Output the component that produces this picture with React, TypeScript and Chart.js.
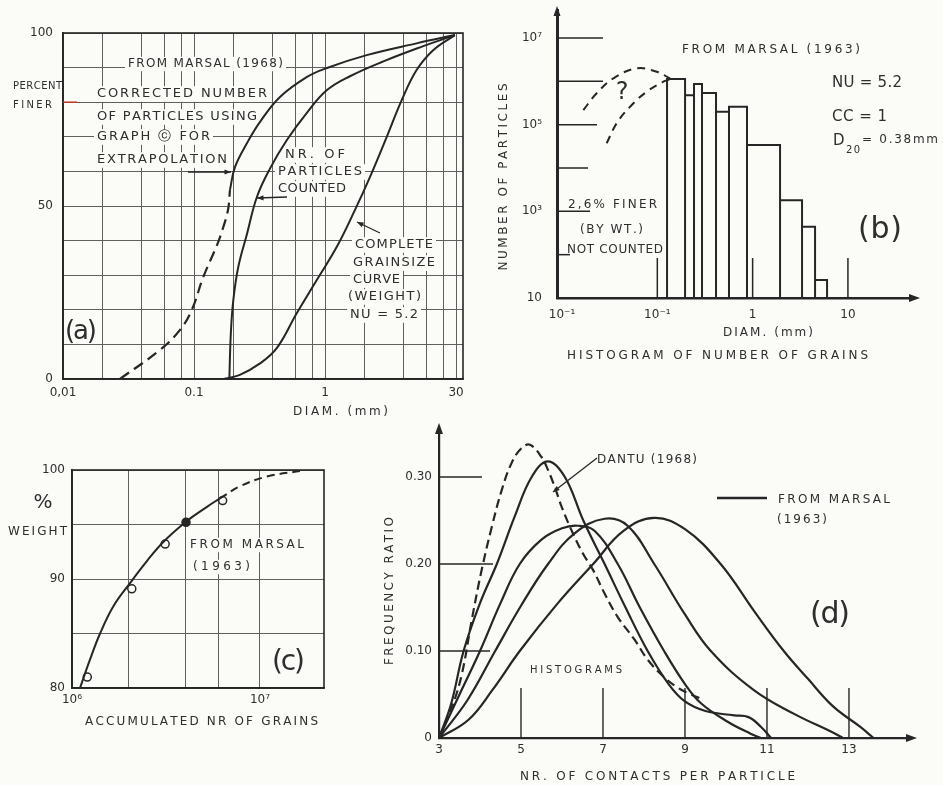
import React, { useEffect, useRef } from "react";
import { Chart, registerables } from "chart.js";

Chart.register(...registerables);

// ---------- palette / fonts ----------
const INK = "#262626";
const TXT = "#2e2e2e";
const GRID = "#5f5f5f";
const PAPER = "#fbfbf8";
const RED = "#c0392b";
const FAM = '"DejaVu Sans", "Liberation Sans", sans-serif';

// ---------- (a) grain-size curves: diameter (mm) vs percent finer ----------
const aCorrectedDashedX = [0.0272, 0.055, 0.0782, 0.096, 0.118, 0.149, 0.166, 0.182, 0.188];
const aCorrectedDashedY = [0, 8.4, 14.2, 19.9, 29.6, 38.5, 43.5, 49, 54.6];
const aCorrectedSolidX = [0.188, 0.2056, 0.254, 0.319, 0.453, 0.729, 1.035, 2.08, 5.0, 9.8];
const aCorrectedSolidY = [54.6, 61.3, 68.2, 74.3, 81.5, 87.3, 89.9, 93.6, 97, 99.4];
const aCountedX = [0.186, 0.191, 0.1995, 0.218, 0.254, 0.302, 0.38, 0.51, 0.729, 1.035, 1.55, 2.79, 5.62, 9.8];
const aCountedY = [0, 13.2, 22.8, 32.5, 42, 52.6, 60.8, 69, 77, 83.5, 87.5, 91.8, 96.2, 99.4];
const aWeightX = [0.168, 0.224, 0.319, 0.428, 0.608, 0.865, 1.23, 1.69, 2.21, 2.96, 3.85, 5.0, 6.72, 9.8];
const aWeightY = [0, 1.2, 4.5, 8.9, 19, 28.6, 38.2, 48.8, 58.5, 70, 80.6, 89.3, 95.1, 99.4];
const aGridX = [0.01, 0.02, 0.04, 0.06, 0.08, 0.1, 0.2, 0.4, 0.6, 0.8, 1, 2, 4, 6, 8, 10];
const aLabelValsX = [0.01, 0.1, 1, 10];
const aLabelsX = ["0,01", "0.1", "1", "30"];
const aGridY = [0, 10, 20, 30, 40, 50, 60, 70, 80, 90, 100];
const aLabelValsY = [0, 50, 100];
const aLabelsY = ["0", "50", "100"];

// ---------- (b) histogram of number of grains ----------
const bBinEdges = [0.1265, 0.1955, 0.2427, 0.2944, 0.413, 0.565, 0.873, 1.94, 3.3, 4.52, 6.04];
const bBinCounts = [1.13e6, 4.8e5, 8.7e5, 5.4e5, 2.0e5, 2.6e5, 3.4e4, 1.8e3, 440, 26];
const bGuessUpperX = [0.01675, 0.0231, 0.0345, 0.0608, 0.0986, 0.1359];
const bGuessUpperY = [2.18e5, 5.3e5, 1.17e6, 2.0e6, 1.66e6, 1.17e6];
const bGuessLowerX = [0.0294, 0.0375, 0.0518, 0.0774, 0.1156, 0.1359];
const bGuessLowerY = [3.72e4, 1.08e5, 2.6e5, 5.77e5, 9.8e5, 1.11e6];
const bTickValsX = [0.01, 0.1, 1, 10];
const bTickLabelsX = ["10⁻¹", "10⁻¹", "1", "10"];
const bTickValsY = [10, 1e3, 1e5, 1e7];
const bTickLabelsY = ["10", "10³", "10⁵", "10⁷"];
const bMarkValsY = [1e2, 1e3, 1e4, 1e5, 1e6, 1e7];
const bMarkValsX = [0.1, 1, 10];

// ---------- (c) % weight vs accumulated number of grains ----------
const cCurveX = [1.103e6, 1.246e6, 1.41e6, 1.66e6, 2.03e6, 2.49e6, 3.06e6, 4.07e6, 5.2e6, 6.12e6];
const cCurveY = [80, 82.6, 85, 87.5, 89.6, 91.6, 93.4, 95.3, 96.6, 97.4];
const cExtrapX = [6.12e6, 7.83e6, 1.087e7, 1.63e7];
const cExtrapY = [97.4, 98.5, 99.4, 99.9];
const cPointsX = [1.206e6, 2.08e6, 3.13e6, 4.04e6, 6.33e6];
const cPointsY = [81.0, 89.1, 93.2, 95.2, 97.2];
const cGridX = [1e6, 2e6, 4e6, 6e6, 1e7];
const cLabelValsX = [1e6, 1e7];
const cLabelsX = ["10⁶", "10⁷"];
const cGridY = [80, 85, 90, 95, 100];
const cLabelValsY = [80, 90, 100];
const cLabelsY = ["80", "90", "100"];

// ---------- (d) frequency ratio vs contacts per particle ----------
const dDantuX = [3, 3.32, 3.56, 3.8, 4.04, 4.29, 4.53, 4.77, 5.01, 5.22, 5.5, 5.66, 5.82, 5.99, 6.23, 6.51, 6.76, 7.04, 7.36, 7.77, 8.09, 8.49, 8.82, 9.1, 9.35];
const dDantuY = [0, 0.036, 0.074, 0.136, 0.193, 0.243, 0.285, 0.316, 0.333, 0.337, 0.323, 0.308, 0.289, 0.266, 0.239, 0.212, 0.193, 0.166, 0.139, 0.113, 0.09, 0.07, 0.058, 0.051, 0.046];
const dMarsal1X = [3, 3.3, 3.6, 4.0, 4.41, 4.85, 5.26, 5.66, 6.07, 6.52, 7.04, 7.55, 8.09, 8.6, 9.0, 9.5, 10.2, 10.55, 10.85, 11.1];
const dMarsal1Y = [0, 0.04, 0.1, 0.155, 0.2, 0.255, 0.3, 0.318, 0.3, 0.25, 0.2, 0.15, 0.1, 0.062, 0.042, 0.031, 0.026, 0.024, 0.013, 0];
const dMarsal2X = [3, 3.5, 4.0, 4.5, 4.97, 5.5, 6.0, 6.39, 6.8, 7.36, 7.9, 8.49, 9.0, 9.39, 10.03, 10.6, 10.85];
const dMarsal2Y = [0, 0.05, 0.1, 0.155, 0.2, 0.228, 0.241, 0.244, 0.238, 0.2, 0.15, 0.1, 0.062, 0.04, 0.019, 0.005, 0];
const dMarsal3X = [3, 3.7, 4.37, 5.0, 5.66, 6.3, 7.04, 7.6, 8.25, 9.0, 9.63, 10.68, 11.65, 12.62, 12.85];
const dMarsal3Y = [0, 0.044, 0.1, 0.152, 0.2, 0.235, 0.252, 0.244, 0.2, 0.142, 0.1, 0.055, 0.028, 0.006, 0];
const dMarsal4X = [3, 3.72, 4.3, 4.97, 5.9, 6.76, 7.5, 8.25, 9.0, 9.87, 10.7, 11.41, 12.0, 12.62, 13.27, 13.6];
const dMarsal4Y = [0, 0.021, 0.055, 0.1, 0.155, 0.2, 0.238, 0.253, 0.24, 0.2, 0.145, 0.1, 0.068, 0.036, 0.013, 0];
const dTickValsX = [3, 5, 7, 9, 11, 13];
const dTickLabelsX = ["3", "5", "7", "9", "11", "13"];
const dTickValsY = [0, 0.1, 0.2, 0.3];
const dTickLabelsY = ["0", "0.10", "0.20", "0.30"];
const dMarkValsX = [5, 7, 9, 11, 13];
const dMarkValsY = [0.1, 0.2, 0.3];

// ---------- helpers ----------
type Geo = { L: number; T: number; W: number; H: number; l: number; t: number; r: number; b: number };
type Txt = { t: string; x: number; y: number; s?: number; w?: number; c?: boolean; rot?: boolean; bg?: boolean };

const zip = (xs: number[], ys: number[]) => xs.map((x, i) => ({ x, y: ys[i] }));

function histogramOutline(edges: number[], counts: number[], base: number) {
  const pts: { x: number; y: number }[] = [];
  counts.forEach((c, i) => {
    pts.push({ x: edges[i], y: base }, { x: edges[i], y: c }, { x: edges[i + 1], y: c }, { x: edges[i + 1], y: base });
  });
  return pts;
}

function labelFor(vals: number[], labels: string[], v: number) {
  const i = vals.findIndex((u) => Math.abs(u - v) <= Math.abs(u) * 1e-6 + 1e-12);
  return i >= 0 ? labels[i] : "";
}

function textWidth(ctx: CanvasRenderingContext2D, it: Txt) {
  ctx.font = `${it.s ?? 12}px ${FAM}`;
  const chars = Array.from(it.t);
  const widths = chars.map((ch) => ctx.measureText(ch).width);
  const raw = widths.reduce((a, b) => a + b, 0);
  return { chars, widths, raw, total: it.w ?? raw };
}

function drawTxt(ctx: CanvasRenderingContext2D, it: Txt) {
  ctx.save();
  const { chars, widths, raw, total } = textWidth(ctx, it);
  ctx.fillStyle = TXT;
  ctx.textBaseline = "middle";
  ctx.textAlign = "left";
  const sp = chars.length > 1 ? (total - raw) / (chars.length - 1) : 0;
  ctx.translate(it.x, it.y);
  if (it.rot) ctx.rotate(-Math.PI / 2);
  let x = it.c || it.rot ? -total / 2 : 0;
  chars.forEach((ch, i) => {
    ctx.fillText(ch, x, 0);
    x += widths[i] + sp;
  });
  ctx.restore();
}

function clearBehind(ctx: CanvasRenderingContext2D, it: Txt) {
  ctx.save();
  const { total } = textWidth(ctx, it);
  const s = it.s ?? 12;
  const x0 = it.c ? it.x - total / 2 : it.x;
  ctx.fillStyle = PAPER;
  ctx.fillRect(x0 - 3, it.y - s * 0.6, total + 6, s * 1.2);
  ctx.restore();
}

function drawArrow(ctx: CanvasRenderingContext2D, x1: number, y1: number, x2: number, y2: number, head = 7) {
  ctx.beginPath();
  ctx.moveTo(x1, y1);
  ctx.lineTo(x2, y2);
  ctx.stroke();
  const a = Math.atan2(y2 - y1, x2 - x1);
  ctx.beginPath();
  ctx.moveTo(x2, y2);
  ctx.lineTo(x2 - head * Math.cos(a - 0.38), y2 - head * Math.sin(a - 0.38));
  ctx.lineTo(x2 - head * Math.cos(a + 0.38), y2 - head * Math.sin(a + 0.38));
  ctx.closePath();
  ctx.fill();
}

function axisHead(ctx: CanvasRenderingContext2D, x: number, y: number, dir: "up" | "right", len = 10, half = 4) {
  ctx.beginPath();
  if (dir === "up") {
    ctx.moveTo(x, y);
    ctx.lineTo(x - half, y + len);
    ctx.lineTo(x + half, y + len);
  } else {
    ctx.moveTo(x, y);
    ctx.lineTo(x - len, y - half);
    ctx.lineTo(x - len, y + half);
  }
  ctx.closePath();
  ctx.fill();
}

function baseOptions(g: Geo) {
  return {
    animation: false,
    responsive: false,
    maintainAspectRatio: false,
    events: [],
    layout: { padding: { left: 0, top: g.t - g.T, right: g.L + g.W - g.r, bottom: 0 } },
    plugins: { legend: { display: false }, tooltip: { enabled: false }, title: { display: false } },
    elements: {
      point: { radius: 0, hoverRadius: 0 },
      line: { borderColor: INK, borderWidth: 2, fill: false, tension: 0.4, capBezierPoints: true },
    },
  };
}

function axisCfg(g: Geo, horizontal: boolean, o: any) {
  return {
    type: o.type,
    min: o.min,
    max: o.max,
    afterBuildTicks: (s: any) => {
      s.ticks = o.ticks.map((v: number) => ({ value: v }));
    },
    afterFit: (s: any) => {
      if (horizontal) s.height = g.T + g.H - g.b;
      else s.width = g.l - g.L;
      s.paddingLeft = 0;
      s.paddingRight = 0;
      s.paddingTop = 0;
      s.paddingBottom = 0;
    },
    ticks: {
      autoSkip: false,
      maxRotation: 0,
      minRotation: 0,
      padding: o.pad,
      color: TXT,
      font: { family: FAM, size: 12 },
      callback: (v: number) => labelFor(o.labelVals, o.labels, v),
    },
    grid: o.grid
      ? { display: true, color: GRID, lineWidth: 1, drawTicks: false }
      : { display: false, drawTicks: false },
    border: { display: true, color: INK, width: o.border },
  };
}

function decor(g: Geo, texts: Txt[], arrows: number[][], lines: number[][], extra?: (ctx: CanvasRenderingContext2D, chart: any) => void) {
  return {
    id: "decor",
    beforeDatasetsDraw(chart: any) {
      const ctx = chart.ctx as CanvasRenderingContext2D;
      ctx.save();
      ctx.translate(-g.L, -g.T);
      texts.filter((t) => t.bg).forEach((t) => clearBehind(ctx, t));
      ctx.restore();
    },
    afterDraw(chart: any) {
      const ctx = chart.ctx as CanvasRenderingContext2D;
      ctx.save();
      ctx.strokeStyle = INK;
      ctx.fillStyle = INK;
      if (extra) extra(ctx, chart);
      ctx.restore();
      ctx.save();
      ctx.translate(-g.L, -g.T);
      texts.forEach((t) => drawTxt(ctx, t));
      ctx.strokeStyle = INK;
      ctx.fillStyle = INK;
      ctx.lineWidth = 1.3;
      arrows.forEach((a) => drawArrow(ctx, a[0], a[1], a[2], a[3]));
      lines.forEach((l) => {
        ctx.lineWidth = l[4];
        ctx.beginPath();
        ctx.moveTo(l[0], l[1]);
        ctx.lineTo(l[2], l[3]);
        ctx.stroke();
      });
      ctx.restore();
    },
  };
}

// ---------- layout (page pixels) ----------
const GEO_A: Geo = { L: 0, T: 0, W: 470, H: 420, l: 63, t: 33, r: 463, b: 379 };
const GEO_B: Geo = { L: 470, T: 0, W: 473, H: 400, l: 557, t: 10, r: 910, b: 298 };
const GEO_C: Geo = { L: 0, T: 420, W: 400, H: 365, l: 72, t: 470, r: 324, b: 688 };
const GEO_D: Geo = { L: 375, T: 420, W: 568, H: 365, l: 439, t: 427, r: 908, b: 738 };

const A_TEXT: Txt[] = [
  { t: "FROM MARSAL (1968)", x: 128, y: 64, s: 12, w: 155, bg: true },
  { t: "PERCENT", x: 13, y: 86, s: 10, w: 49 },
  { t: "FINER", x: 13, y: 105, s: 10, w: 39 },
  { t: "CORRECTED NUMBER", x: 97, y: 94, s: 13, w: 170, bg: true },
  { t: "OF PARTICLES USING", x: 97, y: 117, s: 13, w: 160, bg: true },
  { t: "GRAPH ⓒ FOR", x: 97, y: 137, s: 13, w: 113, bg: true },
  { t: "EXTRAPOLATION", x: 97, y: 160, s: 13, w: 130, bg: true },
  { t: "NR. OF", x: 285, y: 155, s: 13, w: 60, bg: true },
  { t: "PARTICLES", x: 278, y: 172, s: 13, w: 84, bg: true },
  { t: "COUNTED", x: 278, y: 189, s: 13, w: 68, bg: true },
  { t: "COMPLETE", x: 355, y: 245, s: 13, w: 78, bg: true },
  { t: "GRAINSIZE", x: 353, y: 263, s: 13, w: 82, bg: true },
  { t: "CURVE", x: 353, y: 280, s: 13, w: 47, bg: true },
  { t: "(WEIGHT)", x: 348, y: 297, s: 13, w: 73, bg: true },
  { t: "NU = 5.2", x: 350, y: 315, s: 13, w: 68, bg: true },
  { t: "(a)", x: 65, y: 332, s: 26, w: 32 },
  { t: "DIAM. (mm)", x: 293, y: 412, s: 12, w: 95 },
];
const A_ARROWS = [
  [188, 172, 231, 172],
  [287, 197, 257, 198],
  [380, 233, 357, 222],
];

const B_TEXT: Txt[] = [
  { t: "NUMBER OF PARTICLES", x: 504, y: 177, s: 12, w: 187, rot: true },
  { t: "FROM MARSAL (1963)", x: 682, y: 50, s: 12, w: 178 },
  { t: "NU = 5.2", x: 832, y: 83, s: 15, w: 70 },
  { t: "CC = 1", x: 832, y: 117, s: 15, w: 55 },
  { t: "D", x: 833, y: 141, s: 15 },
  { t: "20", x: 846, y: 150, s: 10, w: 14 },
  { t: "= 0.38mm", x: 862, y: 140, s: 12, w: 76 },
  { t: "?", x: 622, y: 93, s: 24, c: true },
  { t: "2,6% FINER", x: 568, y: 205, s: 12, w: 89 },
  { t: "(BY WT.)", x: 580, y: 230, s: 12, w: 63 },
  { t: "NOT COUNTED", x: 567, y: 250, s: 12, w: 96 },
  { t: "(b)", x: 858, y: 230, s: 30, w: 44 },
  { t: "DIAM. (mm)", x: 723, y: 333, s: 12, w: 90 },
  { t: "HISTOGRAM OF NUMBER OF GRAINS", x: 567, y: 356, s: 12, w: 301 },
];

const C_TEXT: Txt[] = [
  { t: "%", x: 43, y: 503, s: 20, c: true },
  { t: "WEIGHT", x: 8, y: 532, s: 12, w: 59 },
  { t: "FROM MARSAL", x: 190, y: 545, s: 12, w: 114, bg: true },
  { t: "(1963)", x: 193, y: 567, s: 12, w: 57, bg: true },
  { t: "(c)", x: 272, y: 663, s: 28, w: 33 },
  { t: "ACCUMULATED NR OF GRAINS", x: 85, y: 722, s: 12, w: 233 },
];

const D_TEXT: Txt[] = [
  { t: "FREQUENCY RATIO", x: 390, y: 591, s: 12, w: 148, rot: true },
  { t: "DANTU (1968)", x: 597, y: 460, s: 12, w: 100 },
  { t: "FROM MARSAL", x: 778, y: 500, s: 12, w: 112 },
  { t: "(1963)", x: 777, y: 520, s: 12, w: 50 },
  { t: "(d)", x: 810, y: 615, s: 30, w: 40 },
  { t: "HISTOGRAMS", x: 530, y: 670, s: 10, w: 92 },
  { t: "NR. OF CONTACTS PER PARTICLE", x: 520, y: 777, s: 12, w: 275 },
];
const D_ARROWS = [[597, 458, 553, 492]];
const D_LINES = [[717, 498, 767, 498, 2.5]];

// ---------- chart configs ----------
function makeA(g: Geo): any {
  return {
    type: "line",
    data: {
      datasets: [
        { data: zip(aCorrectedDashedX, aCorrectedDashedY), borderDash: [11, 6], borderWidth: 2.2 },
        { data: zip(aCorrectedSolidX, aCorrectedSolidY) },
        { data: zip(aCountedX, aCountedY) },
        { data: zip(aWeightX, aWeightY) },
      ],
    },
    options: {
      ...baseOptions(g),
      scales: {
        x: axisCfg(g, true, { type: "logarithmic", min: 0.01, max: 11.3, ticks: aGridX, labelVals: aLabelValsX, labels: aLabelsX, pad: 7, grid: true, border: 1.6 }),
        y: axisCfg(g, false, { type: "linear", min: 0, max: 100, ticks: aGridY, labelVals: aLabelValsY, labels: aLabelsY, pad: 10, grid: true, border: 1.6 }),
      },
    },
    plugins: [
      decor(g, A_TEXT, A_ARROWS, [], (ctx, chart) => {
        const ca = chart.chartArea;
        ctx.lineWidth = 1.6;
        ctx.strokeRect(ca.left, ca.top, ca.right - ca.left, ca.bottom - ca.top);
        const y80 = chart.scales.y.getPixelForValue(80);
        ctx.strokeStyle = RED;
        ctx.lineWidth = 1.5;
        ctx.beginPath();
        ctx.moveTo(ca.left, y80);
        ctx.lineTo(ca.left + 14, y80);
        ctx.stroke();
      }),
    ],
  };
}

function makeB(g: Geo): any {
  const markLen = [13, 33, 31, 40, 46, 46];
  return {
    type: "line",
    data: {
      datasets: [
        { data: histogramOutline(bBinEdges, bBinCounts, 10), tension: 0, borderWidth: 2 },
        { data: zip(bGuessUpperX, bGuessUpperY), borderDash: [8, 6], borderWidth: 2 },
        { data: zip(bGuessLowerX, bGuessLowerY), borderDash: [8, 6], borderWidth: 2 },
      ],
    },
    options: {
      ...baseOptions(g),
      scales: {
        x: axisCfg(g, true, { type: "logarithmic", min: 0.00886, max: 44.8, ticks: bTickValsX, labelVals: bTickValsX, labels: bTickLabelsX, pad: 10, grid: false, border: 2.5 }),
        y: axisCfg(g, false, { type: "logarithmic", min: 10, max: 4.43e7, ticks: bTickValsY, labelVals: bTickValsY, labels: bTickLabelsY, pad: 15, grid: false, border: 3 }),
      },
    },
    plugins: [
      decor(g, B_TEXT, [], [], (ctx, chart) => {
        const ca = chart.chartArea;
        ctx.lineWidth = 1.5;
        bMarkValsY.forEach((v, i) => {
          const y = chart.scales.y.getPixelForValue(v);
          ctx.beginPath();
          ctx.moveTo(ca.left, y);
          ctx.lineTo(ca.left + markLen[i], y);
          ctx.stroke();
        });
        bMarkValsX.forEach((v) => {
          const x = chart.scales.x.getPixelForValue(v);
          ctx.beginPath();
          ctx.moveTo(x, ca.bottom);
          ctx.lineTo(x, ca.bottom - 40);
          ctx.stroke();
        });
        ctx.lineWidth = 2.5;
        ctx.beginPath();
        ctx.moveTo(ca.right, ca.bottom);
        ctx.lineTo(ca.right + 4, ca.bottom);
        ctx.stroke();
        axisHead(ctx, ca.left, ca.top - 4, "up", 10, 3.5);
        axisHead(ctx, ca.right + 10, ca.bottom, "right", 11, 4);
      }),
    ],
  };
}

function makeC(g: Geo): any {
  const pointFill = cPointsX.map((_, i) => (i === 3 ? INK : PAPER));
  return {
    type: "line",
    data: {
      datasets: [
        { data: zip(cCurveX, cCurveY), borderWidth: 2 },
        { data: zip(cExtrapX, cExtrapY), borderDash: [8, 5], borderWidth: 2 },
        {
          data: zip(cPointsX, cPointsY),
          showLine: false,
          pointRadius: 4,
          pointBorderWidth: 1.5,
          pointBorderColor: INK,
          pointBackgroundColor: pointFill,
        },
      ],
    },
    options: {
      ...baseOptions(g),
      scales: {
        x: axisCfg(g, true, { type: "logarithmic", min: 1e6, max: 2.19e7, ticks: cGridX, labelVals: cLabelValsX, labels: cLabelsX, pad: 5, grid: true, border: 1.6 }),
        y: axisCfg(g, false, { type: "linear", min: 80, max: 100, ticks: cGridY, labelVals: cLabelValsY, labels: cLabelsY, pad: 7, grid: true, border: 1.6 }),
      },
    },
    plugins: [
      decor(g, C_TEXT, [], [], (ctx, chart) => {
        const ca = chart.chartArea;
        ctx.lineWidth = 1.6;
        ctx.strokeRect(ca.left, ca.top, ca.right - ca.left, ca.bottom - ca.top);
      }),
    ],
  };
}

function makeD(g: Geo): any {
  const markLen = [51, 54, 43];
  return {
    type: "line",
    data: {
      datasets: [
        { data: zip(dDantuX, dDantuY), borderDash: [9, 5], borderWidth: 2.2 },
        { data: zip(dMarsal1X, dMarsal1Y), borderWidth: 2.2 },
        { data: zip(dMarsal2X, dMarsal2Y), borderWidth: 2.2 },
        { data: zip(dMarsal3X, dMarsal3Y), borderWidth: 2.2 },
        { data: zip(dMarsal4X, dMarsal4Y), borderWidth: 2.2 },
      ],
    },
    options: {
      ...baseOptions(g),
      scales: {
        x: axisCfg(g, true, { type: "linear", min: 3, max: 14.44, ticks: dTickValsX, labelVals: dTickValsX, labels: dTickLabelsX, pad: 5, grid: false, border: 2.2 }),
        y: axisCfg(g, false, { type: "linear", min: 0, max: 0.3575, ticks: dTickValsY, labelVals: dTickValsY, labels: dTickLabelsY, pad: 7, grid: false, border: 2.2 }),
      },
    },
    plugins: [
      decor(g, D_TEXT, D_ARROWS, D_LINES, (ctx, chart) => {
        const ca = chart.chartArea;
        ctx.lineWidth = 1.4;
        dMarkValsY.forEach((v, i) => {
          const y = chart.scales.y.getPixelForValue(v);
          ctx.beginPath();
          ctx.moveTo(ca.left, y);
          ctx.lineTo(ca.left + markLen[i], y);
          ctx.stroke();
        });
        dMarkValsX.forEach((v) => {
          const x = chart.scales.x.getPixelForValue(v);
          ctx.beginPath();
          ctx.moveTo(x, ca.bottom);
          ctx.lineTo(x, ca.bottom - 50);
          ctx.stroke();
        });
        ctx.lineWidth = 2.2;
        ctx.beginPath();
        ctx.moveTo(ca.right, ca.bottom);
        ctx.lineTo(ca.right + 3, ca.bottom);
        ctx.stroke();
        axisHead(ctx, ca.left, ca.top - 4, "up", 11, 4);
        axisHead(ctx, ca.right + 9, ca.bottom, "right", 11, 4);
      }),
    ],
  };
}

// ---------- components ----------
function ChartPanel({ geo, make }: { geo: Geo; make: (g: Geo) => any }) {
  const ref = useRef<HTMLCanvasElement | null>(null);
  useEffect(() => {
    if (!ref.current) return;
    const chart = new Chart(ref.current, make(geo));
    return () => chart.destroy();
  }, []);
  return (
    <canvas
      ref={ref}
      width={geo.W}
      height={geo.H}
      style={{ position: "absolute", left: geo.L, top: geo.T, width: geo.W, height: geo.H }}
    />
  );
}

export default function App() {
  return (
    <div
      style={{
        position: "absolute",
        left: 0,
        top: 0,
        width: 943,
        height: 785,
        background: PAPER,
        overflow: "hidden",
      }}
    >
      <ChartPanel geo={GEO_A} make={makeA} />
      <ChartPanel geo={GEO_B} make={makeB} />
      <ChartPanel geo={GEO_C} make={makeC} />
      <ChartPanel geo={GEO_D} make={makeD} />
    </div>
  );
}
